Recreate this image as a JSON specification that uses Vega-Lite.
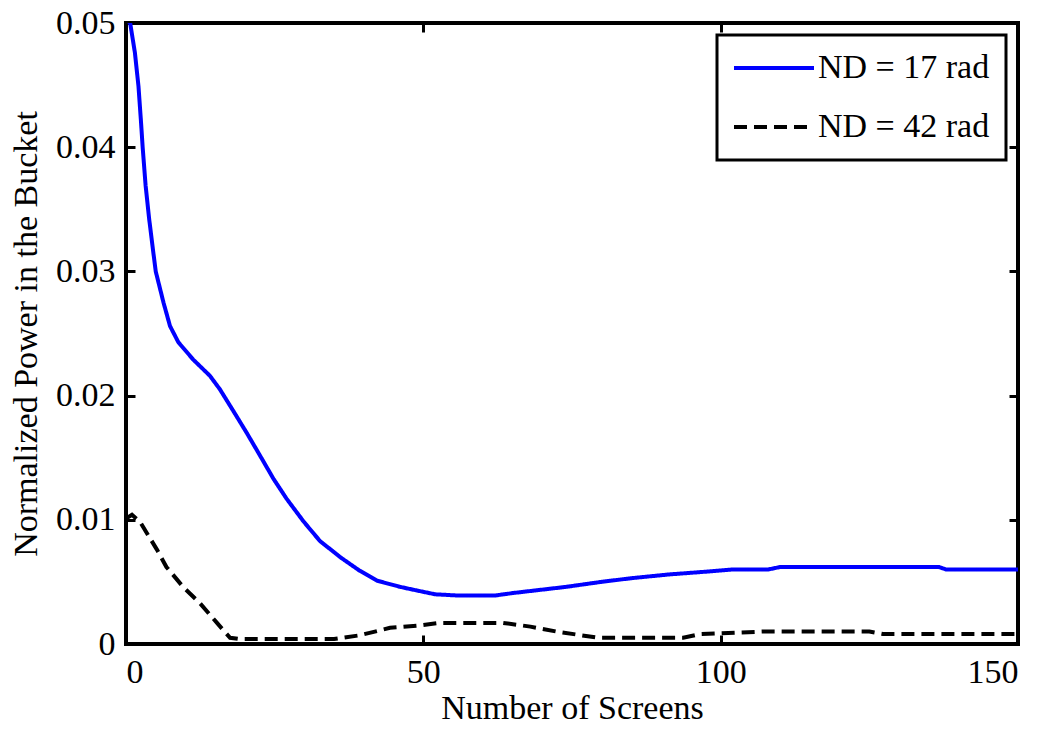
{
  "$schema": "https://vega.github.io/schema/vega-lite/v6.json",
  "width": 892,
  "height": 621,
  "autosize": "none",
  "padding": {"left": 126, "top": 23, "right": 33, "bottom": 86},
  "background": "white",
  "config": {
    "view": {"stroke": "black", "strokeWidth": 4},
    "font": "Liberation Serif",
    "axis": {
      "labelFont": "Liberation Serif",
      "titleFont": "Liberation Serif",
      "labelColor": "black",
      "titleColor": "black",
      "labelFontSize": 34,
      "titleFontSize": 34,
      "titleFontWeight": "normal",
      "grid": false,
      "domain": false,
      "tickColor": "black",
      "tickWidth": 3,
      "tickSize": -9,
      "labelPadding": 20
    },
    "legend": {
      "labelFont": "Liberation Serif",
      "labelFontSize": 34,
      "labelColor": "black",
      "labelLimit": 400,
      "strokeColor": "black",
      "strokeWidth": 3,
      "fillColor": "white",
      "padding": 16,
      "symbolType": "M-4,0H4",
      "symbolSize": 400,
      "symbolOffset": 24,
      "symbolStrokeWidth": 4,
      "rowPadding": 25,
      "labelOffset": 27,
      "orient": "top-right",
      "offset": 12,
      "title": null
    }
  },
  "data": {
    "values": [
      {"screens": 0, "power": 0.0503, "series": "ND = 17 rad"},
      {"screens": 0.7, "power": 0.0500, "series": "ND = 17 rad"},
      {"screens": 1.5, "power": 0.0476, "series": "ND = 17 rad"},
      {"screens": 2.1, "power": 0.0449, "series": "ND = 17 rad"},
      {"screens": 2.5, "power": 0.0422, "series": "ND = 17 rad"},
      {"screens": 2.8, "power": 0.0400, "series": "ND = 17 rad"},
      {"screens": 3.3, "power": 0.0369, "series": "ND = 17 rad"},
      {"screens": 3.9, "power": 0.0342, "series": "ND = 17 rad"},
      {"screens": 4.6, "power": 0.0315, "series": "ND = 17 rad"},
      {"screens": 5.0, "power": 0.0300, "series": "ND = 17 rad"},
      {"screens": 6.3, "power": 0.0275, "series": "ND = 17 rad"},
      {"screens": 7.4, "power": 0.0256, "series": "ND = 17 rad"},
      {"screens": 8.8, "power": 0.0243, "series": "ND = 17 rad"},
      {"screens": 11.3, "power": 0.0229, "series": "ND = 17 rad"},
      {"screens": 14.1, "power": 0.0216, "series": "ND = 17 rad"},
      {"screens": 15.8, "power": 0.0205, "series": "ND = 17 rad"},
      {"screens": 18.0, "power": 0.0188, "series": "ND = 17 rad"},
      {"screens": 20.3, "power": 0.0170, "series": "ND = 17 rad"},
      {"screens": 22.5, "power": 0.0152, "series": "ND = 17 rad"},
      {"screens": 24.8, "power": 0.0133, "series": "ND = 17 rad"},
      {"screens": 27.0, "power": 0.0117, "series": "ND = 17 rad"},
      {"screens": 29.8, "power": 0.0099, "series": "ND = 17 rad"},
      {"screens": 32.6, "power": 0.0083, "series": "ND = 17 rad"},
      {"screens": 36.0, "power": 0.0070, "series": "ND = 17 rad"},
      {"screens": 39.3, "power": 0.0059, "series": "ND = 17 rad"},
      {"screens": 42.2, "power": 0.0051, "series": "ND = 17 rad"},
      {"screens": 46.1, "power": 0.0046, "series": "ND = 17 rad"},
      {"screens": 49.0, "power": 0.0043, "series": "ND = 17 rad"},
      {"screens": 52.0, "power": 0.0040, "series": "ND = 17 rad"},
      {"screens": 56.0, "power": 0.0039, "series": "ND = 17 rad"},
      {"screens": 62.0, "power": 0.0039, "series": "ND = 17 rad"},
      {"screens": 65.0, "power": 0.0041, "series": "ND = 17 rad"},
      {"screens": 68.6, "power": 0.0043, "series": "ND = 17 rad"},
      {"screens": 74.0, "power": 0.0046, "series": "ND = 17 rad"},
      {"screens": 79.9, "power": 0.0050, "series": "ND = 17 rad"},
      {"screens": 85.0, "power": 0.0053, "series": "ND = 17 rad"},
      {"screens": 91.3, "power": 0.0056, "series": "ND = 17 rad"},
      {"screens": 96.9, "power": 0.0058, "series": "ND = 17 rad"},
      {"screens": 102.0, "power": 0.0060, "series": "ND = 17 rad"},
      {"screens": 108.0, "power": 0.0060, "series": "ND = 17 rad"},
      {"screens": 110.0, "power": 0.0062, "series": "ND = 17 rad"},
      {"screens": 136.7, "power": 0.0062, "series": "ND = 17 rad"},
      {"screens": 137.9, "power": 0.0060, "series": "ND = 17 rad"},
      {"screens": 150.0, "power": 0.0060, "series": "ND = 17 rad"},
      {"screens": 0, "power": 0.0101, "series": "ND = 42 rad"},
      {"screens": 1.0, "power": 0.0104, "series": "ND = 42 rad"},
      {"screens": 2.4, "power": 0.0098, "series": "ND = 42 rad"},
      {"screens": 5.2, "power": 0.0076, "series": "ND = 42 rad"},
      {"screens": 6.8, "power": 0.0062, "series": "ND = 42 rad"},
      {"screens": 9.6, "power": 0.0046, "series": "ND = 42 rad"},
      {"screens": 12.4, "power": 0.0033, "series": "ND = 42 rad"},
      {"screens": 15.3, "power": 0.0017, "series": "ND = 42 rad"},
      {"screens": 17.5, "power": 0.0005, "series": "ND = 42 rad"},
      {"screens": 19.0, "power": 0.0004, "series": "ND = 42 rad"},
      {"screens": 35.0, "power": 0.0004, "series": "ND = 42 rad"},
      {"screens": 39.3, "power": 0.0007, "series": "ND = 42 rad"},
      {"screens": 44.4, "power": 0.0013, "series": "ND = 42 rad"},
      {"screens": 49.4, "power": 0.0015, "series": "ND = 42 rad"},
      {"screens": 52.8, "power": 0.0017, "series": "ND = 42 rad"},
      {"screens": 63.4, "power": 0.0017, "series": "ND = 42 rad"},
      {"screens": 68.0, "power": 0.0014, "series": "ND = 42 rad"},
      {"screens": 72.4, "power": 0.0010, "series": "ND = 42 rad"},
      {"screens": 79.4, "power": 0.0005, "series": "ND = 42 rad"},
      {"screens": 93.7, "power": 0.0005, "series": "ND = 42 rad"},
      {"screens": 96.5, "power": 0.0008, "series": "ND = 42 rad"},
      {"screens": 107.0, "power": 0.0010, "series": "ND = 42 rad"},
      {"screens": 125.0, "power": 0.0010, "series": "ND = 42 rad"},
      {"screens": 127.3, "power": 0.0008, "series": "ND = 42 rad"},
      {"screens": 150.0, "power": 0.0008, "series": "ND = 42 rad"}
    ]
  },
  "layer": [
    {
      "mark": {"type": "line", "strokeWidth": 4, "clip": true},
      "encoding": {
        "x": {
          "field": "screens", "type": "quantitative",
          "scale": {"domain": [0, 150], "nice": false, "zero": false},
          "axis": {"values": [0, 50, 100, 150], "title": "Number of Screens", "titlePadding": 2}
        },
        "y": {
          "field": "power", "type": "quantitative",
          "scale": {"domain": [0, 0.05], "nice": false},
          "axis": {
            "values": [0, 0.01, 0.02, 0.03, 0.04, 0.05],
            "labelExpr": "datum.value == 0 ? '0' : format(datum.value, '.2f')",
            "title": "Normalized Power in the Bucket",
            "titlePadding": 12
          }
        },
        "color": {
          "field": "series", "type": "nominal",
          "scale": {"domain": ["ND = 17 rad", "ND = 42 rad"], "range": ["#0000ff", "#000000"]},
          "legend": {"title": null}
        },
        "strokeDash": {
          "field": "series", "type": "nominal",
          "scale": {"domain": ["ND = 17 rad", "ND = 42 rad"], "range": [[1, 0], [13, 7]]},
          "legend": {"title": null}
        }
      }
    },
    {
      "mark": {"type": "line", "strokeOpacity": 0},
      "encoding": {
        "x": {
          "field": "screens", "type": "quantitative",
          "axis": {"orient": "top", "values": [0, 50, 100, 150], "labels": false, "title": null}
        },
        "y": {
          "field": "power", "type": "quantitative",
          "axis": {"orient": "right", "values": [0, 0.01, 0.02, 0.03, 0.04, 0.05], "labels": false, "title": null}
        },
        "detail": {"field": "series", "type": "nominal"}
      }
    }
  ],
  "resolve": {"axis": {"x": "independent", "y": "independent"}}
}
